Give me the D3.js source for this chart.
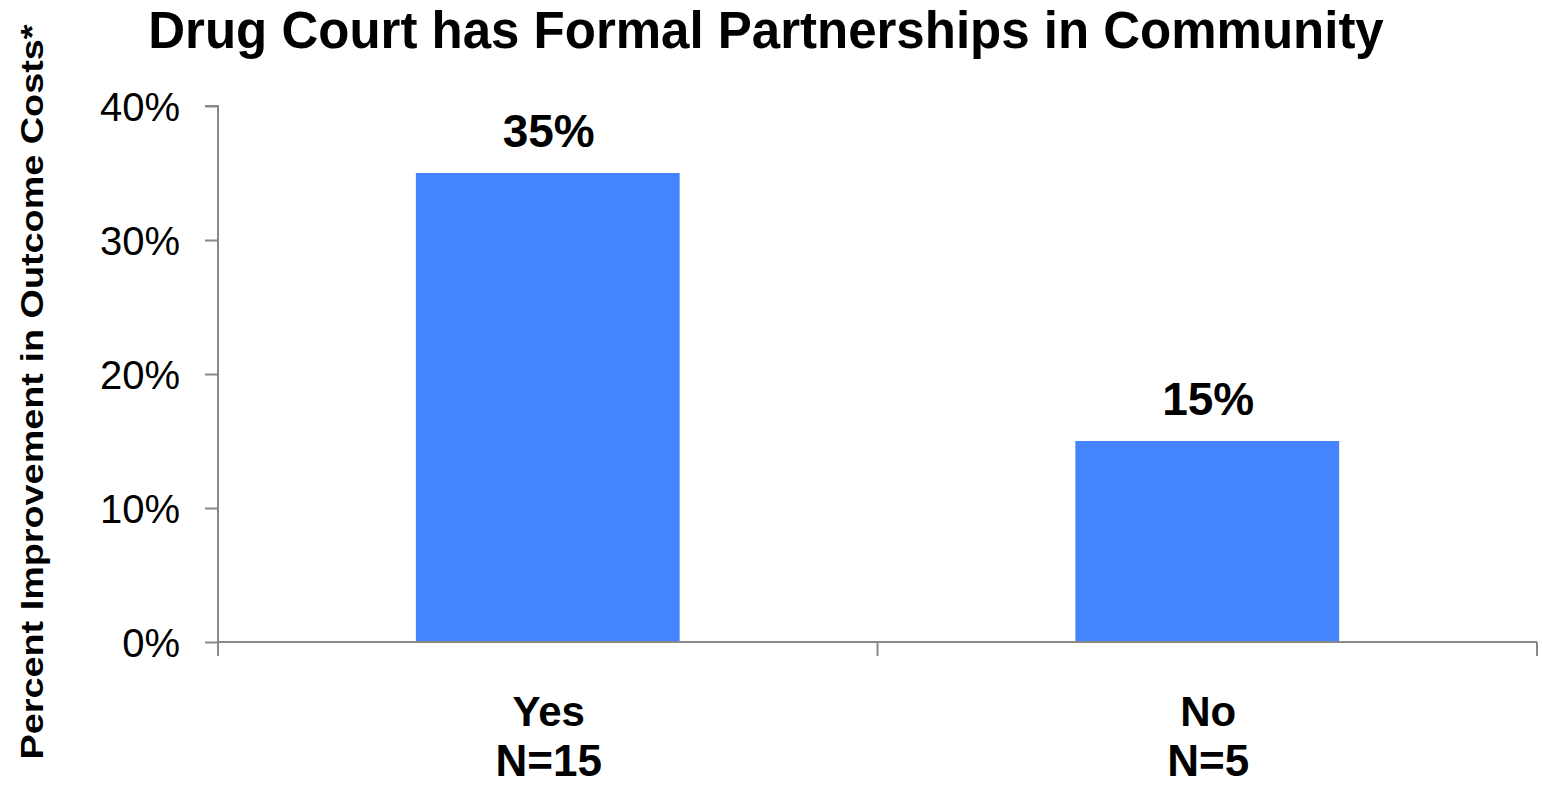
<!DOCTYPE html>
<html><head><meta charset="utf-8">
<script src="https://cdn.jsdelivr.net/npm/d3@7"></script>
<style>body{margin:0;background:#fff;} svg{display:block;}</style>
</head><body>
<script>
const categories = ["Yes", "No"];
const nLabels = ["N=15", "N=5"];
const values = [0.35, 0.15];
const yTicks = [0, 0.1, 0.2, 0.3, 0.4];
const title = "Drug Court has Formal Partnerships in Community";
const yTitle = "Percent Improvement in Outcome Costs*";

const W = 1543, H = 786;
const m = {left: 218, right: 6, top: 106, bottom: 144};
const svg = d3.select("body").append("svg").attr("width", W).attr("height", H);
const x = d3.scaleBand().domain(categories).range([m.left, W - m.right]).paddingInner(0).paddingOuter(0);
const y = d3.scaleLinear().domain([0, 0.4]).range([H - m.bottom, m.top]);
const font = "Liberation Sans, Arial, sans-serif";
const gray = "#898989";

// bars
const bw = x.bandwidth() * 0.4;
svg.selectAll("rect.bar").data(values).enter().append("rect")
  .attr("x", (d, i) => x(categories[i]) + (x.bandwidth() - bw) / 2)
  .attr("y", d => y(d)).attr("width", bw).attr("height", d => y(0) - y(d))
  .attr("fill", "#4485FF");

// y axis
const ya = svg.append("g").attr("transform", `translate(${m.left},0)`)
  .call(d3.axisLeft(y).tickValues(yTicks).tickFormat(d3.format(".0%")).tickSize(13).tickPadding(25));
ya.select(".domain").attr("stroke", gray).attr("stroke-width", 2).attr("d", `M-13,${y(0.4)}H0V${y(0)}`);
ya.selectAll(".tick line").attr("stroke", gray).attr("stroke-width", 2);
ya.selectAll(".tick text").attr("font-family", font).attr("font-size", 40).attr("fill", "#000")
  .attr("dy", "0.36em");

// x axis
const xa = svg.append("g").attr("transform", `translate(0,${y(0)})`)
  .call(d3.axisBottom(x).tickSize(0).tickFormat(""));
xa.select(".domain").attr("stroke", gray).attr("stroke-width", 2).attr("d", `M${m.left},0H${W - m.right}`);
const bounds = [x(categories[0]), x(categories[1]), x(categories[1]) + x.bandwidth()];
svg.selectAll("line.xt").data(bounds).enter().append("line")
  .attr("x1", d => d).attr("x2", d => d).attr("y1", y(0)).attr("y2", y(0) + 14)
  .attr("stroke", gray).attr("stroke-width", 2);

// category labels
svg.selectAll("text.cat").data(categories).enter().append("text")
  .attr("x", d => x(d) + x.bandwidth() / 2 + 1).attr("y", 726)
  .attr("text-anchor", "middle").attr("font-family", font).attr("font-weight", "bold").attr("font-size", 42)
  .text(d => d);
svg.selectAll("text.n").data(nLabels).enter().append("text")
  .attr("x", (d, i) => x(categories[i]) + x.bandwidth() / 2 + 1).attr("y", 776)
  .attr("text-anchor", "middle").attr("font-family", font).attr("font-weight", "bold").attr("font-size", 44)
  .text(d => d);

// value labels
svg.selectAll("text.val").data(values).enter().append("text")
  .attr("x", (d, i) => x(categories[i]) + x.bandwidth() / 2 + 1).attr("y", d => y(d) - 26)
  .attr("text-anchor", "middle").attr("font-family", font).attr("font-weight", "bold").attr("font-size", 46)
  .text(d => d3.format(".0%")(d));

// title
svg.append("text").attr("x", 766).attr("y", 48).attr("text-anchor", "middle")
  .attr("font-family", font).attr("font-weight", "bold").attr("font-size", 51).text(title);

// y title
svg.append("text").attr("transform", `translate(43,392) rotate(-90)`).attr("text-anchor", "middle")
  .attr("font-family", font).attr("font-weight", "bold")
  .attr("font-size", 31).attr("textLength", 735).attr("lengthAdjust", "spacingAndGlyphs").text(yTitle);
</script>
</body></html>
